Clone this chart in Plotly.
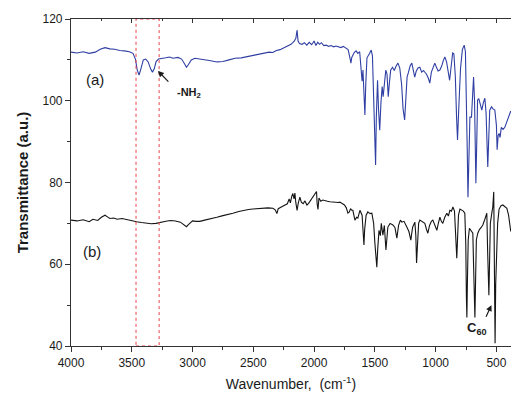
import plotly.graph_objects as go

# FTIR spectrum (a): amine-functionalised sample
wn_a = [4000, 3950, 3900, 3850, 3800, 3760, 3720, 3680, 3640, 3600, 3560, 3520, 3490, 3470,
        3455, 3440, 3425, 3405, 3385, 3365, 3345, 3330, 3315, 3300, 3280, 3250, 3220, 3190,
        3160, 3120, 3090, 3065, 3050, 3035, 3010, 2980, 2950, 2900, 2850, 2800, 2750, 2700,
        2650, 2600, 2550, 2500, 2450, 2400, 2370, 2340, 2310, 2280, 2250, 2220, 2190, 2165,
        2150, 2140, 2132, 2120, 2100, 2080, 2060, 2040, 2020, 2000, 1985, 1970, 1955, 1940,
        1920, 1900, 1880, 1860, 1840, 1820, 1800, 1780, 1760, 1740, 1720, 1705, 1697, 1690,
        1680, 1670, 1655, 1640, 1625, 1612, 1605, 1598, 1590, 1582, 1575, 1565, 1545, 1530,
        1520, 1510, 1500, 1494, 1488, 1478, 1470, 1460, 1450, 1440, 1432, 1420, 1410, 1400,
        1390, 1380, 1370, 1355, 1340, 1325, 1310, 1295, 1280, 1268, 1255, 1245, 1235, 1225,
        1210, 1196, 1185, 1172, 1160, 1145, 1130, 1115, 1100, 1089, 1075, 1060, 1048, 1035,
        1020, 1007, 995, 980, 965, 950, 935, 924, 910, 898, 885, 872, 860, 850, 838, 828,
        820, 810, 795, 780, 765, 755, 748, 740, 734, 728, 718, 705, 696, 688, 680, 674, 669,
        663, 655, 645, 630, 620, 608, 595, 585, 577, 571, 564, 555, 540, 528, 513, 500, 494,
        486, 478, 470, 460, 445, 431, 415, 400, 390, 382]
t_a = [111.9, 111.7, 112.0, 111.6, 111.9, 112.6, 113.0, 112.7, 112.6, 112.3, 112.2, 112.0, 111.6, 110.2,
       107.5, 106.3, 107.8, 110.0, 110.2, 109.5, 107.8, 107.0, 107.8, 109.6, 110.2, 110.3, 110.5, 110.7,
       110.4, 110.6, 110.2, 109.0, 108.2, 108.8, 110.0, 110.4, 110.3, 110.0, 109.8, 109.5, 109.6, 110.0,
       110.4, 110.5, 110.8, 111.2, 111.5, 111.8, 111.9, 111.8, 112.3, 112.5, 113.0, 113.5, 113.8, 114.5,
       115.3, 117.3, 114.6, 114.0, 113.8, 114.2, 113.6, 114.3, 113.7, 114.6, 113.5, 114.3, 113.8, 114.2,
       113.5, 113.6, 113.3, 113.5, 113.2, 113.4, 113.1, 113.0, 113.3, 112.8, 112.5, 110.5, 109.2, 110.6,
       111.4, 111.8, 112.2, 111.6, 112.0, 108.0, 104.8, 107.5, 103.0, 96.5, 104.0, 110.5, 111.5, 112.4,
       111.0, 100.0, 88.0, 84.3, 96.0, 105.0, 98.0, 92.8, 99.5, 103.5, 101.0, 105.8, 107.5, 106.5,
       101.0, 104.5, 107.5, 108.2, 107.4, 108.5, 109.2, 108.0, 104.0, 98.0, 95.3, 100.5, 105.8, 106.8,
       108.5, 109.2, 107.5, 105.8, 107.2, 108.0, 108.2, 107.0, 107.4, 107.0, 106.5, 105.5, 104.3, 107.0,
       108.5, 109.2, 108.3, 107.3, 107.5, 108.5, 110.0, 110.7, 109.5, 106.8, 105.0, 108.5, 111.7, 111.5,
       106.0, 96.0, 90.4, 98.0, 108.0, 112.5, 113.6, 112.0, 103.0, 88.0, 76.4, 85.0, 96.0, 96.0, 100.0,
       105.8, 100.0, 88.0, 79.8, 88.0, 100.2, 100.5, 99.0, 97.7, 99.5, 100.6, 97.0, 88.0, 83.8, 90.0,
       97.7, 98.5, 98.0, 97.7, 94.0, 88.0, 91.5, 92.0, 91.0, 93.5, 93.0, 93.5, 95.0, 96.0, 97.0, 97.5]

# FTIR spectrum (b): C60-containing sample
wn_b = [4000, 3950, 3900, 3850, 3820, 3780, 3750, 3720, 3700, 3680, 3650, 3620, 3580, 3540,
        3500, 3460, 3420, 3380, 3340, 3300, 3260, 3220, 3180, 3140, 3100, 3070, 3050, 3030,
        3000, 2970, 2940, 2900, 2850, 2800, 2750, 2700, 2668, 2620, 2580, 2540, 2503, 2460,
        2420, 2380, 2339, 2320, 2306, 2295, 2270, 2240, 2220, 2205, 2195, 2185, 2175, 2165,
        2158, 2150, 2140, 2130, 2117, 2105, 2090, 2075, 2059, 2045, 2030, 2015, 2000, 1990,
        1980, 1975, 1968, 1960, 1945, 1928, 1910, 1890, 1870, 1846, 1820, 1800, 1788, 1770,
        1750, 1735, 1722, 1710, 1700, 1690, 1681, 1664, 1650, 1640, 1623, 1605, 1596, 1590,
        1584, 1572, 1558, 1540, 1525, 1510, 1500, 1490, 1484, 1476, 1466, 1455, 1447, 1434,
        1422, 1409, 1400, 1393, 1375, 1352, 1335, 1319, 1305, 1290, 1278, 1260, 1237, 1220,
        1204, 1190, 1171, 1163, 1157, 1150, 1140, 1130, 1110, 1089, 1075, 1064, 1050, 1035,
        1023, 1005, 990, 978, 965, 953, 941, 925, 908, 895, 883, 870, 858, 845, 836, 830,
        826, 820, 812, 800, 785, 772, 760, 752, 747, 743, 739, 732, 722, 710, 700, 694,
        688, 681, 677, 672, 665, 653, 640, 625, 612, 595, 585, 579, 572, 566, 562, 558,
        550, 538, 530, 522, 516, 511, 506, 498, 490, 478, 462, 447, 430, 414, 400, 390, 382]
t_b = [70.8, 70.6, 70.9, 70.4, 71.0, 70.7, 71.5, 72.0, 71.6, 71.2, 71.3, 71.0, 71.2, 70.9,
       70.7, 70.4, 70.2, 70.0, 69.9, 70.0, 70.3, 70.5, 70.7, 70.6, 70.3, 69.7, 69.2, 69.8,
       70.6, 70.5, 70.5, 70.8, 71.1, 71.5, 71.9, 72.2, 72.5, 72.9, 73.2, 73.4, 73.5, 73.6,
       73.6, 73.8, 73.7, 73.3, 72.4, 73.6, 74.0, 74.4, 74.8, 76.0, 75.0, 76.5, 77.3, 76.0,
       77.4, 75.0, 73.2, 75.0, 76.4, 75.2, 74.8, 75.5, 74.5, 74.9, 75.5, 76.2, 76.8, 77.2,
       77.8, 74.8, 73.4, 76.2, 75.4, 75.7, 75.5, 75.4, 75.3, 75.2, 75.0, 75.1, 75.2, 74.8,
       74.5, 73.8, 72.5, 72.8, 73.6, 73.2, 73.2, 70.8, 71.5, 71.3, 73.2, 72.0, 68.0, 64.7,
       68.5, 72.0, 72.8, 72.4, 72.5, 70.0, 65.2, 62.0, 59.3, 64.0, 68.3, 67.0, 70.0, 67.1,
       69.5, 63.5, 67.5, 69.1, 70.0, 69.6, 69.0, 66.4, 69.5, 70.8, 70.3, 70.5, 69.1, 68.0,
       65.9, 69.0, 70.3, 67.0, 60.3, 66.0, 70.0, 70.8, 70.5, 70.0, 68.5, 67.6, 69.5, 70.5,
       70.8, 69.5, 68.3, 70.0, 71.5, 70.5, 70.0, 71.5, 72.5, 71.8, 73.2, 73.0, 74.0, 73.0, 68.0, 63.0,
       61.5, 66.0, 72.0, 73.5, 73.2, 73.0, 72.5, 65.0, 52.0, 47.0, 55.0, 66.0, 68.8, 68.3, 68.0, 67.6,
       60.0, 49.0, 47.0, 55.0, 66.0, 67.6, 68.5, 69.0, 69.6, 71.0, 72.0, 72.5, 63.0, 54.0, 52.4, 58.0,
       70.0, 72.5, 74.0, 77.7, 60.0, 40.7, 55.0, 66.6, 70.0, 73.5, 74.3, 74.5, 74.0, 73.7, 72.0, 69.1, 68.0]

# dashed box marking the N-H stretching band
nh_band = [3465, 3275]

x_range = [4000, 380]
y_range = [40, 120]
x_ticks = [4000, 3500, 3000, 2500, 2000, 1500, 1000, 500]
y_ticks = [40, 60, 80, 100, 120]

font = "Liberation Sans, Arial, sans-serif"
ink = "#1a1a1a"

fig = go.Figure()
fig.add_trace(go.Scatter(x=wn_a, y=t_a, mode="lines",
                         line=dict(color="#2f3fa3", width=1.1), showlegend=False))
fig.add_trace(go.Scatter(x=wn_b, y=t_b, mode="lines",
                         line=dict(color="#141414", width=1.1), showlegend=False))
# invisible helper trace so the top axis is drawn
fig.add_trace(go.Scatter(x=x_range, y=y_range, xaxis="x2", mode="lines",
                         line=dict(width=0), hoverinfo="skip", showlegend=False))

fig.add_shape(type="rect", x0=nh_band[0], x1=nh_band[1], y0=y_range[0], y1=y_range[1],
              xref="x", yref="y", line=dict(color="#e8404a", width=1, dash="dot"))

fig.add_annotation(x=3800, y=105.1, text="(a)", showarrow=False,
                   font=dict(family=font, size=15, color=ink))
fig.add_annotation(x=3825, y=63.0, text="(b)", showarrow=False,
                   font=dict(family=font, size=15, color=ink))
fig.add_annotation(x=3285, y=107.3, ax=3187, ay=104.3, axref="x", ayref="y",
                   text="", showarrow=True, arrowhead=2, arrowsize=1, arrowwidth=1.2,
                   arrowcolor=ink)
fig.add_annotation(x=3030, y=102.0, text="<b>-NH<sub>2</sub></b>", showarrow=False,
                   font=dict(family=font, size=11, color=ink))
fig.add_annotation(x=541, y=50.0, ax=591, ay=46.8, axref="x", ayref="y",
                   text="", showarrow=True, arrowhead=2, arrowsize=1, arrowwidth=1.2,
                   arrowcolor=ink)
fig.add_annotation(x=656, y=44.2, text="<b>C<sub>60</sub></b>", showarrow=False,
                   font=dict(family=font, size=13, color=ink))

fig.update_layout(
    width=511, height=399,
    margin=dict(l=71, r=0, t=19, b=53),
    paper_bgcolor="white", plot_bgcolor="white",
    font=dict(family=font, size=12, color=ink),
    xaxis=dict(range=x_range, tickvals=x_ticks, ticks="outside", ticklen=5, tickwidth=1,
               tickcolor="#333", showline=True, linecolor="#333", linewidth=1.2,
               showgrid=False, zeroline=False,
               minor=dict(ticks="outside", ticklen=3, dtick=250, tickcolor="#333", showgrid=False),
               title=dict(text="Wavenumber,  (cm<sup>-1</sup>)", standoff=10,
                          font=dict(family=font, size=14, color=ink)),
               tickfont=dict(family=font, size=12, color=ink)),
    xaxis2=dict(range=x_range, overlaying="x", side="top", anchor="y", tickvals=x_ticks,
                ticks="inside", ticklen=4, tickcolor="#333", showticklabels=False,
                showline=True, linecolor="#333", linewidth=1.2, showgrid=False, zeroline=False,
                minor=dict(ticks="inside", ticklen=2, dtick=250, tickcolor="#333", showgrid=False)),
    yaxis=dict(range=y_range, tickvals=y_ticks, ticks="outside", ticklen=5, tickwidth=1,
               tickcolor="#333", showline=True, linecolor="#333", linewidth=1.2,
               showgrid=False, zeroline=False,
               minor=dict(ticks="outside", ticklen=3, dtick=10, tickcolor="#333", showgrid=False),
               title=dict(text="<b>Transmittance (a.u.)</b>", standoff=10,
                          font=dict(family=font, size=15, color=ink)),
               tickfont=dict(family=font, size=12, color=ink)),
)

fig.write_html("out.html")
